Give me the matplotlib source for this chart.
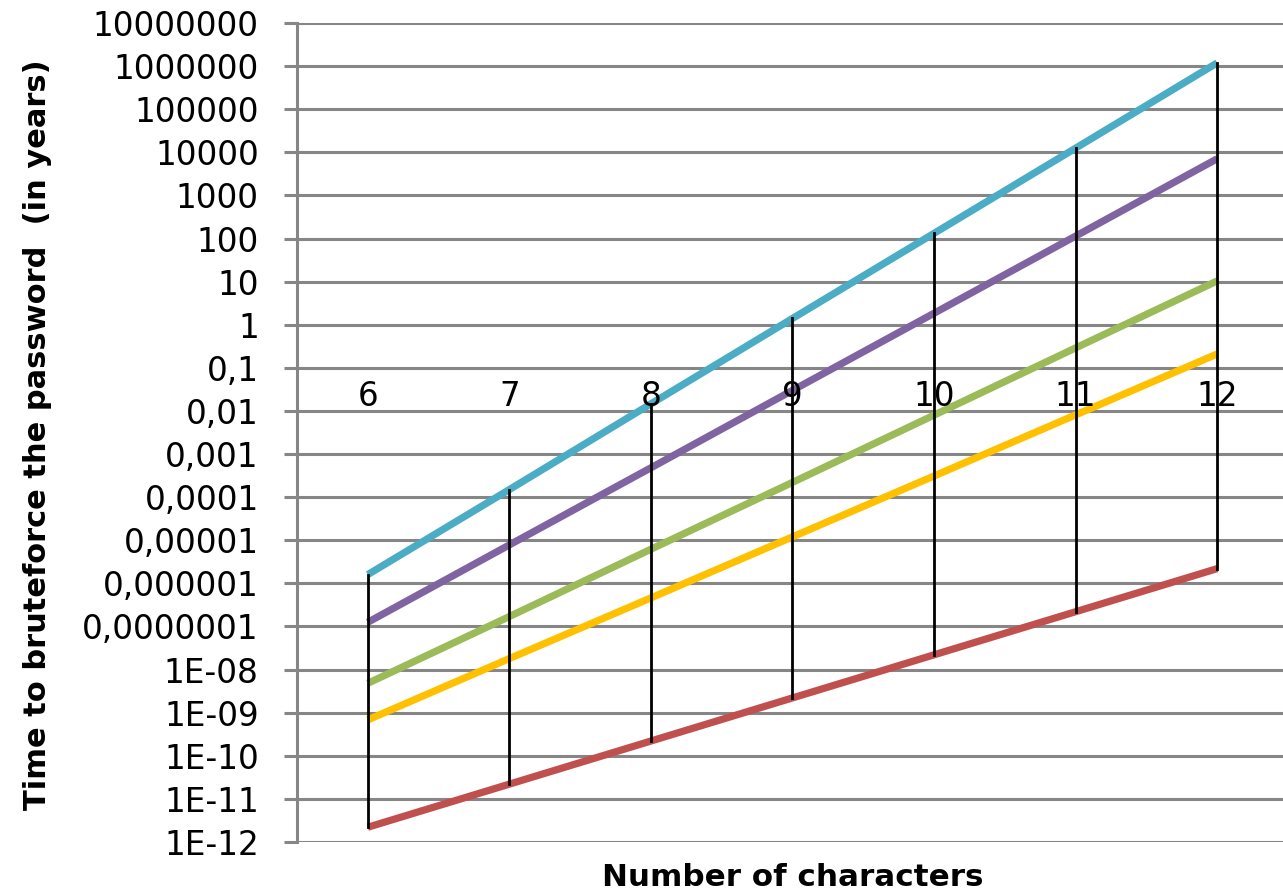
import matplotlib
matplotlib.use("Agg")
import matplotlib.pyplot as plt
from matplotlib.ticker import FixedLocator, NullLocator, FixedFormatter

# Categories (number of characters)
chars = [6, 7, 8, 9, 10, 11, 12]

# Time to bruteforce (years)
s_digits = [2.2e-12, 2.2e-11, 2.2e-10, 2.2e-9, 2.2e-8, 2.2e-7, 2.2e-6]
s_lower = [6.8e-10, 1.8e-8, 4.6e-7, 1.2e-5, 3.1e-4, 8.1e-3, 0.21]
s_lower_digits = [4.8e-9, 1.7e-7, 6.2e-6, 2.2e-4, 8.0e-3, 0.29, 10.4]
s_alnum = [1.25e-7, 7.8e-6, 4.8e-4, 0.030, 1.85, 114, 7100]
s_printable = [1.6e-6, 1.5e-4, 0.0146, 1.4, 132, 12500, 1.19e6]

series = [s_digits, s_lower, s_lower_digits, s_alnum, s_printable]
colors = ["#C0504D", "#FFC000", "#9BBB59", "#8064A2", "#4BACC6"]

ytick_values = [1e-12, 1e-11, 1e-10, 1e-9, 1e-8, 1e-7, 1e-6, 1e-5, 1e-4, 1e-3,
                1e-2, 1e-1, 1, 10, 100, 1000, 1e4, 1e5, 1e6, 1e7]
ytick_labels = ["1E-12", "1E-11", "1E-10", "1E-09", "1E-08", "0,0000001",
                "0,000001", "0,00001", "0,0001", "0,001", "0,01", "0,1", "1",
                "10", "100", "1000", "10000", "100000", "1000000", "10000000"]

x_cross = 0.1  # value where the category axis crosses

fig = plt.figure(figsize=(12.83, 8.93), dpi=100)
W, H = 1283, 893
left, right, top, bottom = 297, 1288, 23, 842
ax = fig.add_axes([left / W, 1 - bottom / H, (right - left) / W, (bottom - top) / H])

ax.set_yscale("log")
ax.set_ylim(1e-12, 1e7)
ax.set_xlim(chars[0] - 0.5, chars[-1] + 0.5)

grid_c = "#868686"
ax.yaxis.set_major_locator(FixedLocator(ytick_values))
ax.yaxis.set_major_formatter(FixedFormatter(ytick_labels))
ax.yaxis.set_minor_locator(NullLocator())
ax.grid(axis="y", color=grid_c, linewidth=2.2, zorder=0)
ax.set_axisbelow(True)
ax.tick_params(axis="y", which="major", length=9.5, width=2.2, color=grid_c,
               pad=18, labelsize=23.5, labelcolor="black")
ax.set_xticks([])

for sp in ["top", "right", "bottom"]:
    ax.spines[sp].set_visible(False)
ax.spines["left"].set_color(grid_c)
ax.spines["left"].set_linewidth(2.2)

# series lines
for vals, c in zip(series, colors):
    ax.plot(chars, vals, color=c, linewidth=5.2, solid_capstyle="butt", zorder=3)

# high-low lines
for i, x in enumerate(chars):
    vs = [s[i] for s in series]
    ax.plot([x, x], [min(vs), max(vs)], color="black", linewidth=2.0, zorder=4)

# category labels below the crossing value
for x in chars:
    ax.annotate(str(x), xy=(x, x_cross), xytext=(0, -9), textcoords="offset points",
                ha="center", va="top", fontsize=23.5, color="black", zorder=5)

ax.set_ylabel("Time to bruteforce the password  (in years)", fontsize=22,
              fontweight="bold")
ax.yaxis.set_label_coords(-0.247, 0.497)
fig.text((left + right) / 2 / W, 1 - 863 / H, "Number of characters", ha="center",
         va="top", fontsize=22.3, fontweight="bold")

fig.savefig("out.png", dpi=100)
